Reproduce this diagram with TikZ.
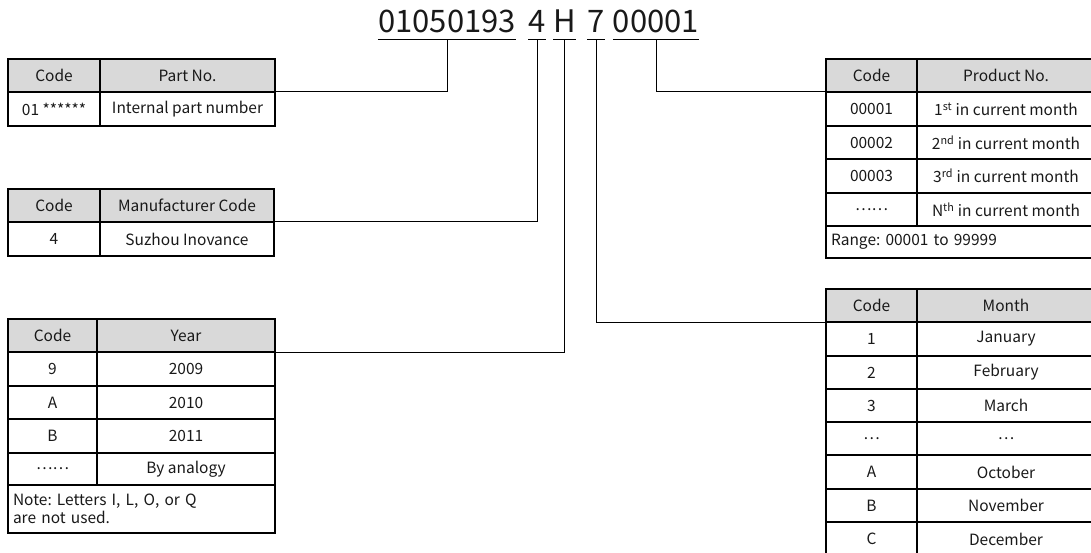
\documentclass[tikz,border=0pt]{standalone}
\usepackage{fontspec}
\setmainfont{Noto Sans CJK SC}
\usetikzlibrary{calc}
\definecolor{hdr}{HTML}{D9D9D9}
\frenchspacing
\newcommand\tcell[7]{%
  \pgfmathsetmacro\cw{#4-#2}\pgfmathsetmacro\ch{#5-#3}%
  \pgfmathsetmacro\tw{#4-#2-10}%
  \node[cell,minimum width=\cw pt,minimum height=\ch pt,#6] (#1) at ({(#2+#4)/2},{(#3+#5)/2}) {#7};}
\begin{document}
\begin{tikzpicture}[x=1pt,y=-1pt,
  cell/.style={draw=black,line width=1.3pt,inner sep=0pt,outer sep=0pt,font=\fontsize{15.5}{18}\selectfont,text=black!90},
  head/.style={fill=hdr},
  lnote/.style={text width=\tw pt,align=left},
  title/.style={inner sep=0pt,anchor=base,font=\fontsize{31}{36}\selectfont,text=black!90},
  conn/.style={draw=black,line width=1pt}]
\useasboundingbox (0,0) rectangle (1091,553);
\clip (0,0) rectangle (1091,553);
% title
\node[title] (t1) at (447,33) {01050193};
\node[title] (t2) at (537,33) {4};
\node[title] (t3) at (564.5,33) {H};
\node[title] (t4) at (596,33) {7};
\node[title] (t5) at (656,33) {00001};
\foreach \i in {1,...,5}{
  \draw[conn] ($(t\i.base west)+(0,7)$) -- ($(t\i.base east)+(0,7)$);
  \coordinate (u\i) at ($(t\i.base)+(0,7)$);
}
% Part No. table
\tcell{p01}{8}{59}{100}{92}{head}{Code}
\tcell{p02}{100}{59}{275}{92}{head}{Part No.}
\tcell{p11}{8}{92}{100}{126}{}{01 ******}
\tcell{p12}{100}{92}{275}{126}{}{Internal part number}
% Manufacturer table
\tcell{m01}{8}{189}{100}{222}{head}{Code}
\tcell{m02}{100}{189}{274}{222}{head}{Manufacturer Code}
\tcell{m11}{8}{222}{100}{256}{}{4}
\tcell{m12}{100}{222}{274}{256}{}{Suzhou Inovance}
% Year table
\tcell{y01}{8}{319}{97}{352}{head}{Code}
\tcell{y02}{97}{319}{275}{352}{head}{Year}
\tcell{y11}{8}{352}{97}{386}{}{9}
\tcell{y12}{97}{352}{275}{386}{}{2009}
\tcell{y21}{8}{386}{97}{419}{}{A}
\tcell{y22}{97}{386}{275}{419}{}{2010}
\tcell{y31}{8}{419}{97}{453}{}{B}
\tcell{y32}{97}{419}{275}{453}{}{2011}
\tcell{y41}{8}{453}{97}{485}{}{……}
\tcell{y42}{97}{453}{275}{485}{}{By analogy}
\tcell{y5}{8}{485}{275}{533}{lnote}{Note: Letters I, L, O, or Q\\are not used.}
% Product table
\tcell{r01}{826}{59}{917}{92}{head}{Code}
\tcell{r02}{917}{59}{1095}{92}{head}{Product No.}
\tcell{r11}{826}{92}{917}{126}{}{00001}
\tcell{r12}{917}{92}{1095}{126}{}{1\textsuperscript{st} in current month}
\tcell{r21}{826}{126}{917}{159}{}{00002}
\tcell{r22}{917}{126}{1095}{159}{}{2\textsuperscript{nd} in current month}
\tcell{r31}{826}{159}{917}{193}{}{00003}
\tcell{r32}{917}{159}{1095}{193}{}{3\textsuperscript{rd} in current month}
\tcell{r41}{826}{193}{917}{226}{}{……}
\tcell{r42}{917}{193}{1095}{226}{}{N\textsuperscript{th} in current month}
\tcell{r5}{826}{226}{1095}{258}{lnote}{Range: 00001 to 99999}
% Month table
\tcell{o01}{826}{289}{917}{322}{head}{Code}
\tcell{o02}{917}{289}{1095}{322}{head}{Month}
\tcell{o11}{826}{322}{917}{356}{}{1}
\tcell{o12}{917}{322}{1095}{356}{}{January}
\tcell{o21}{826}{356}{917}{389}{}{2}
\tcell{o22}{917}{356}{1095}{389}{}{February}
\tcell{o31}{826}{389}{917}{422}{}{3}
\tcell{o32}{917}{389}{1095}{422}{}{March}
\tcell{o41}{826}{422}{917}{455}{}{…}
\tcell{o42}{917}{422}{1095}{455}{}{…}
\tcell{o51}{826}{455}{917}{489}{}{A}
\tcell{o52}{917}{455}{1095}{489}{}{October}
\tcell{o61}{826}{489}{917}{522}{}{B}
\tcell{o62}{917}{489}{1095}{522}{}{November}
\tcell{o71}{826}{522}{917}{556}{}{C}
\tcell{o72}{917}{522}{1095}{556}{}{December}
% connectors
\draw[conn] (u1) |- (p12.north east);
\draw[conn] (u2) |- (m12.north east);
\draw[conn] (u3) |- (y12.north east);
\draw[conn] (u4) |- (o11.north west);
\draw[conn] (u5) |- (r11.north west);
\end{tikzpicture}
\end{document}
